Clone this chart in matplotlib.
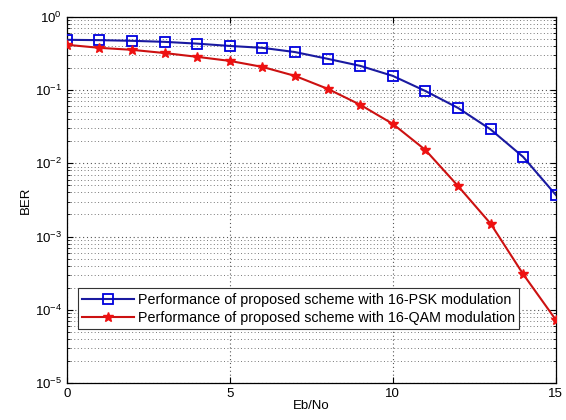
import numpy as np
import matplotlib
matplotlib.use("Agg")
import matplotlib.pyplot as plt

plt.rcParams['font.family'] = ['Liberation Sans', 'DejaVu Sans']

ebno = [0, 1, 2, 3, 4, 5, 6, 7, 8, 9, 10, 11, 12, 13, 14, 15]
ber_psk = [0.485, 0.48, 0.47, 0.455, 0.43, 0.40, 0.377, 0.33, 0.267, 0.214,
           0.156, 0.097, 0.057, 0.029, 0.0122, 0.0037]
ber_qam = [0.415, 0.377, 0.354, 0.32, 0.284, 0.25, 0.207, 0.156, 0.104, 0.063,
           0.0345, 0.0152, 0.0049, 0.0015, 0.000306, 0.000073]
labels = ['Performance of proposed scheme with 16-PSK modulation',
          'Performance of proposed scheme with 16-QAM modulation']

fig = plt.figure(figsize=(5.66, 4.2), dpi=100)
ax = fig.add_axes([0.118, 0.088, 0.864, 0.872])

ax.semilogy(ebno, ber_psk, color='#1a1aa0', linewidth=1.5, marker='s', markersize=6.5,
            markerfacecolor='none', markeredgecolor='#0000dd', markeredgewidth=1.3,
            label=labels[0], zorder=3)
ax.semilogy(ebno, ber_qam, color='#cc1111', linewidth=1.5, marker='*', markersize=7,
            markerfacecolor='#ee1111', markeredgecolor='#ee1111',
            label=labels[1], zorder=3)

ax.set_xlim(0, 15)
ax.set_ylim(1e-5, 1)
ax.set_xticks([0, 5, 10, 15])
ax.set_xlabel('Eb/No', fontsize=9.5, labelpad=0)
ax.set_ylabel('BER', fontsize=9.5, labelpad=2)
ax.tick_params(which='both', direction='in', top=True, right=True, labelsize=9.5)
ax.tick_params(which='major', length=4)
ax.tick_params(which='minor', length=2.5)
ax.grid(True, which='major', linestyle=(0, (1, 2.5)), color='#555555', linewidth=0.8)
ax.grid(True, which='minor', axis='y', linestyle=(0, (1, 2.5)), color='#777777', linewidth=0.7)
for s in ax.spines.values():
    s.set_linewidth(0.9)

leg = ax.legend(loc='upper left', bbox_to_anchor=(0.008, 0.278), fontsize=10.3,
                fancybox=False, framealpha=1, edgecolor='#333333',
                borderpad=0.3, handlelength=3.6, labelspacing=0.3, handletextpad=0.3)
leg.get_frame().set_linewidth(0.8)

fig.savefig('out.png', dpi=100)
